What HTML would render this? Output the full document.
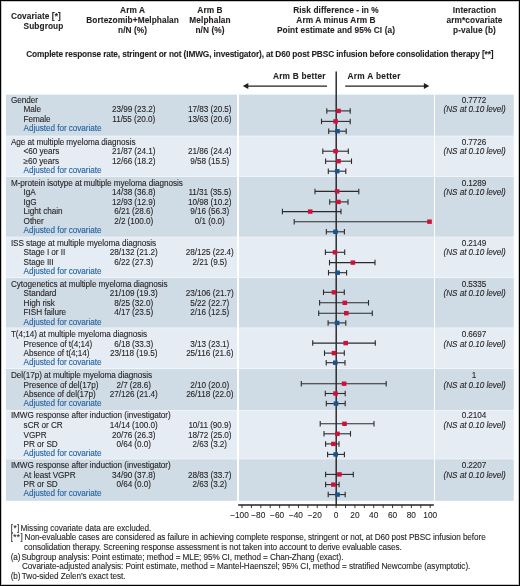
<!DOCTYPE html>
<html><head><meta charset="utf-8"><style>
html,body{margin:0;padding:0;background:#fff;}
body{width:520px;height:586px;position:relative;overflow:hidden;font-family:"Liberation Sans",sans-serif;color:#231f20;}
.t{position:absolute;white-space:nowrap;}
.b{letter-spacing:-0.06px;}
.t{-webkit-text-stroke:0.1px currentColor;}
svg{position:absolute;left:0;top:0;}
.ci{stroke:#2b2b2b;stroke-width:1.1;}
#tx{position:absolute;left:0;top:0;width:520px;height:586px;will-change:transform;}
#bd{position:absolute;left:0;top:0;width:520px;height:586px;box-sizing:border-box;border:1px solid #000;box-shadow:inset 0 0 0 1px rgba(0,0,0,0.22);}
</style></head><body>
<svg width="520" height="586" viewBox="0 0 520 586">
<rect x="5.9" y="94.60" width="231.10" height="41.15" fill="#cfdbe5"/><rect x="239" y="94.60" width="195.00" height="41.15" fill="#cfdbe5"/><rect x="435" y="94.60" width="78.70" height="41.15" fill="#cfdbe5"/><rect x="5.9" y="136.25" width="231.10" height="40.10" fill="#e5ecf3"/><rect x="239" y="136.25" width="195.00" height="40.10" fill="#e5ecf3"/><rect x="435" y="136.25" width="78.70" height="40.10" fill="#e5ecf3"/><rect x="5.9" y="176.85" width="231.10" height="59.90" fill="#cfdbe5"/><rect x="239" y="176.85" width="195.00" height="59.90" fill="#cfdbe5"/><rect x="435" y="176.85" width="78.70" height="59.90" fill="#cfdbe5"/><rect x="5.9" y="237.25" width="231.10" height="40.30" fill="#e5ecf3"/><rect x="239" y="237.25" width="195.00" height="40.30" fill="#e5ecf3"/><rect x="435" y="237.25" width="78.70" height="40.30" fill="#e5ecf3"/><rect x="5.9" y="278.05" width="231.10" height="49.60" fill="#cfdbe5"/><rect x="239" y="278.05" width="195.00" height="49.60" fill="#cfdbe5"/><rect x="435" y="278.05" width="78.70" height="49.60" fill="#cfdbe5"/><rect x="5.9" y="328.15" width="231.10" height="40.30" fill="#e5ecf3"/><rect x="239" y="328.15" width="195.00" height="40.30" fill="#e5ecf3"/><rect x="435" y="328.15" width="78.70" height="40.30" fill="#e5ecf3"/><rect x="5.9" y="368.95" width="231.10" height="41.30" fill="#cfdbe5"/><rect x="239" y="368.95" width="195.00" height="41.30" fill="#cfdbe5"/><rect x="435" y="368.95" width="78.70" height="41.30" fill="#cfdbe5"/><rect x="5.9" y="410.75" width="231.10" height="48.00" fill="#e5ecf3"/><rect x="239" y="410.75" width="195.00" height="48.00" fill="#e5ecf3"/><rect x="435" y="410.75" width="78.70" height="48.00" fill="#e5ecf3"/><rect x="5.9" y="459.25" width="231.10" height="41.55" fill="#cfdbe5"/><rect x="239" y="459.25" width="195.00" height="41.55" fill="#cfdbe5"/><rect x="435" y="459.25" width="78.70" height="41.55" fill="#cfdbe5"/>
<line x1="336.2" y1="71.5" x2="336.2" y2="505" stroke="#231f20" stroke-width="1.4"/><line x1="246" y1="86" x2="327" y2="86" stroke="#231f20" stroke-width="1.25"/><path d="M242.8,86 L248.3,82.9 L248.3,89.1 Z" fill="#231f20"/><line x1="345.2" y1="86" x2="425" y2="86" stroke="#231f20" stroke-width="1.25"/><path d="M429.3,86 L423.9,82.9 L423.9,89.1 Z" fill="#231f20"/><line x1="238.2" y1="504.9" x2="433.8" y2="504.9" stroke="#231f20" stroke-width="1.5"/><line x1="242.00" y1="505" x2="242.00" y2="508" stroke="#231f20" stroke-width="0.9"/><line x1="251.41" y1="505" x2="251.41" y2="508" stroke="#231f20" stroke-width="0.9"/><line x1="260.82" y1="505" x2="260.82" y2="508" stroke="#231f20" stroke-width="0.9"/><line x1="270.23" y1="505" x2="270.23" y2="508" stroke="#231f20" stroke-width="0.9"/><line x1="279.64" y1="505" x2="279.64" y2="508" stroke="#231f20" stroke-width="0.9"/><line x1="289.05" y1="505" x2="289.05" y2="508" stroke="#231f20" stroke-width="0.9"/><line x1="298.46" y1="505" x2="298.46" y2="508" stroke="#231f20" stroke-width="0.9"/><line x1="307.87" y1="505" x2="307.87" y2="508" stroke="#231f20" stroke-width="0.9"/><line x1="317.28" y1="505" x2="317.28" y2="508" stroke="#231f20" stroke-width="0.9"/><line x1="326.69" y1="505" x2="326.69" y2="508" stroke="#231f20" stroke-width="0.9"/><line x1="336.10" y1="505" x2="336.10" y2="508" stroke="#231f20" stroke-width="0.9"/><line x1="345.51" y1="505" x2="345.51" y2="508" stroke="#231f20" stroke-width="0.9"/><line x1="354.92" y1="505" x2="354.92" y2="508" stroke="#231f20" stroke-width="0.9"/><line x1="364.33" y1="505" x2="364.33" y2="508" stroke="#231f20" stroke-width="0.9"/><line x1="373.74" y1="505" x2="373.74" y2="508" stroke="#231f20" stroke-width="0.9"/><line x1="383.15" y1="505" x2="383.15" y2="508" stroke="#231f20" stroke-width="0.9"/><line x1="392.56" y1="505" x2="392.56" y2="508" stroke="#231f20" stroke-width="0.9"/><line x1="401.97" y1="505" x2="401.97" y2="508" stroke="#231f20" stroke-width="0.9"/><line x1="411.38" y1="505" x2="411.38" y2="508" stroke="#231f20" stroke-width="0.9"/><line x1="420.79" y1="505" x2="420.79" y2="508" stroke="#231f20" stroke-width="0.9"/><line x1="430.20" y1="505" x2="430.20" y2="508" stroke="#231f20" stroke-width="0.9"/>
<line x1="326.8" y1="110.9" x2="350.2" y2="110.9" class="ci"/><line x1="326.8" y1="108.15" x2="326.8" y2="113.65" class="ci"/><line x1="350.2" y1="108.15" x2="350.2" y2="113.65" class="ci"/><rect x="336.20" y="108.70" width="4.6" height="4.4" fill="#d0103a"/><line x1="321.5" y1="121.4" x2="350.2" y2="121.4" class="ci"/><line x1="321.5" y1="118.65" x2="321.5" y2="124.15" class="ci"/><line x1="350.2" y1="118.65" x2="350.2" y2="124.15" class="ci"/><rect x="333.30" y="119.20" width="4.6" height="4.4" fill="#d0103a"/><line x1="328.7" y1="131.2" x2="346.2" y2="131.2" class="ci"/><line x1="328.7" y1="128.45" x2="328.7" y2="133.95" class="ci"/><line x1="346.2" y1="128.45" x2="346.2" y2="133.95" class="ci"/><rect x="335.20" y="129.00" width="4.6" height="4.4" fill="#14548f"/><line x1="322.8" y1="151.2" x2="348.3" y2="151.2" class="ci"/><line x1="322.8" y1="148.45" x2="322.8" y2="153.95" class="ci"/><line x1="348.3" y1="148.45" x2="348.3" y2="153.95" class="ci"/><rect x="333.30" y="149.00" width="4.6" height="4.4" fill="#d0103a"/><line x1="325.6" y1="161.2" x2="351.5" y2="161.2" class="ci"/><line x1="325.6" y1="158.45" x2="325.6" y2="163.95" class="ci"/><line x1="351.5" y1="158.45" x2="351.5" y2="163.95" class="ci"/><rect x="336.20" y="159.00" width="4.6" height="4.4" fill="#d0103a"/><line x1="328.3" y1="171.2" x2="345.8" y2="171.2" class="ci"/><line x1="328.3" y1="168.45" x2="328.3" y2="173.95" class="ci"/><line x1="345.8" y1="168.45" x2="345.8" y2="173.95" class="ci"/><rect x="334.90" y="169.00" width="4.6" height="4.4" fill="#14548f"/><line x1="315.0" y1="191.4" x2="358.8" y2="191.4" class="ci"/><line x1="315.0" y1="188.65" x2="315.0" y2="194.15" class="ci"/><line x1="358.8" y1="188.65" x2="358.8" y2="194.15" class="ci"/><rect x="334.80" y="189.20" width="4.6" height="4.4" fill="#d0103a"/><line x1="329.7" y1="201.9" x2="348.0" y2="201.9" class="ci"/><line x1="329.7" y1="199.15" x2="329.7" y2="204.65" class="ci"/><line x1="348.0" y1="199.15" x2="348.0" y2="204.65" class="ci"/><rect x="336.10" y="199.70" width="4.6" height="4.4" fill="#d0103a"/><line x1="282.4" y1="211.6" x2="341.0" y2="211.6" class="ci"/><line x1="282.4" y1="208.85" x2="282.4" y2="214.35" class="ci"/><line x1="341.0" y1="208.85" x2="341.0" y2="214.35" class="ci"/><rect x="307.90" y="209.40" width="4.6" height="4.4" fill="#d0103a"/><line x1="294.2" y1="221.7" x2="430.0" y2="221.7" class="ci"/><line x1="294.2" y1="218.95" x2="294.2" y2="224.45" class="ci"/><rect x="427.20" y="219.50" width="4.6" height="4.4" fill="#d0103a"/><line x1="326.3" y1="231.8" x2="344.4" y2="231.8" class="ci"/><line x1="326.3" y1="229.05" x2="326.3" y2="234.55" class="ci"/><line x1="344.4" y1="229.05" x2="344.4" y2="234.55" class="ci"/><rect x="333.20" y="229.60" width="4.6" height="4.4" fill="#14548f"/><line x1="325.4" y1="252.3" x2="344.7" y2="252.3" class="ci"/><line x1="325.4" y1="249.55" x2="325.4" y2="255.05" class="ci"/><line x1="344.7" y1="249.55" x2="344.7" y2="255.05" class="ci"/><rect x="332.70" y="250.10" width="4.6" height="4.4" fill="#d0103a"/><line x1="329.5" y1="262.6" x2="375.0" y2="262.6" class="ci"/><line x1="329.5" y1="259.85" x2="329.5" y2="265.35" class="ci"/><line x1="375.0" y1="259.85" x2="375.0" y2="265.35" class="ci"/><rect x="350.60" y="260.40" width="4.6" height="4.4" fill="#d0103a"/><line x1="328.5" y1="272.7" x2="346.6" y2="272.7" class="ci"/><line x1="328.5" y1="269.95" x2="328.5" y2="275.45" class="ci"/><line x1="346.6" y1="269.95" x2="346.6" y2="275.45" class="ci"/><rect x="335.30" y="270.50" width="4.6" height="4.4" fill="#14548f"/><line x1="323.5" y1="292.3" x2="344.3" y2="292.3" class="ci"/><line x1="323.5" y1="289.55" x2="323.5" y2="295.05" class="ci"/><line x1="344.3" y1="289.55" x2="344.3" y2="295.05" class="ci"/><rect x="331.70" y="290.10" width="4.6" height="4.4" fill="#d0103a"/><line x1="319.6" y1="302.8" x2="368.5" y2="302.8" class="ci"/><line x1="319.6" y1="300.05" x2="319.6" y2="305.55" class="ci"/><line x1="368.5" y1="300.05" x2="368.5" y2="305.55" class="ci"/><rect x="342.50" y="300.60" width="4.6" height="4.4" fill="#d0103a"/><line x1="318.7" y1="313.2" x2="372.3" y2="313.2" class="ci"/><line x1="318.7" y1="310.45" x2="318.7" y2="315.95" class="ci"/><line x1="372.3" y1="310.45" x2="372.3" y2="315.95" class="ci"/><rect x="344.00" y="311.00" width="4.6" height="4.4" fill="#d0103a"/><line x1="328.1" y1="322.9" x2="345.8" y2="322.9" class="ci"/><line x1="328.1" y1="320.15" x2="328.1" y2="325.65" class="ci"/><line x1="345.8" y1="320.15" x2="345.8" y2="325.65" class="ci"/><rect x="334.80" y="320.70" width="4.6" height="4.4" fill="#14548f"/><line x1="312.7" y1="343.1" x2="375.3" y2="343.1" class="ci"/><line x1="312.7" y1="340.35" x2="312.7" y2="345.85" class="ci"/><line x1="375.3" y1="340.35" x2="375.3" y2="345.85" class="ci"/><rect x="343.40" y="340.90" width="4.6" height="4.4" fill="#d0103a"/><line x1="324.5" y1="353.1" x2="344.3" y2="353.1" class="ci"/><line x1="324.5" y1="350.35" x2="324.5" y2="355.85" class="ci"/><line x1="344.3" y1="350.35" x2="344.3" y2="355.85" class="ci"/><rect x="331.70" y="350.90" width="4.6" height="4.4" fill="#d0103a"/><line x1="326.2" y1="362.7" x2="345.0" y2="362.7" class="ci"/><line x1="326.2" y1="359.95" x2="326.2" y2="365.45" class="ci"/><line x1="345.0" y1="359.95" x2="345.0" y2="365.45" class="ci"/><rect x="333.00" y="360.50" width="4.6" height="4.4" fill="#14548f"/><line x1="301.3" y1="383.7" x2="386.2" y2="383.7" class="ci"/><line x1="301.3" y1="380.95" x2="301.3" y2="386.45" class="ci"/><line x1="386.2" y1="380.95" x2="386.2" y2="386.45" class="ci"/><rect x="341.80" y="381.50" width="4.6" height="4.4" fill="#d0103a"/><line x1="325.3" y1="393.5" x2="345.2" y2="393.5" class="ci"/><line x1="325.3" y1="390.75" x2="325.3" y2="396.25" class="ci"/><line x1="345.2" y1="390.75" x2="345.2" y2="396.25" class="ci"/><rect x="333.20" y="391.30" width="4.6" height="4.4" fill="#d0103a"/><line x1="326.3" y1="403.6" x2="345.2" y2="403.6" class="ci"/><line x1="326.3" y1="400.85" x2="326.3" y2="406.35" class="ci"/><line x1="345.2" y1="400.85" x2="345.2" y2="406.35" class="ci"/><rect x="333.70" y="401.40" width="4.6" height="4.4" fill="#14548f"/><line x1="320.2" y1="423.8" x2="374.0" y2="423.8" class="ci"/><line x1="320.2" y1="421.05" x2="320.2" y2="426.55" class="ci"/><line x1="374.0" y1="421.05" x2="374.0" y2="426.55" class="ci"/><rect x="342.20" y="421.60" width="4.6" height="4.4" fill="#d0103a"/><line x1="324.0" y1="433.8" x2="350.5" y2="433.8" class="ci"/><line x1="324.0" y1="431.05" x2="324.0" y2="436.55" class="ci"/><line x1="350.5" y1="431.05" x2="350.5" y2="436.55" class="ci"/><rect x="335.10" y="431.60" width="4.6" height="4.4" fill="#d0103a"/><line x1="325.6" y1="443.9" x2="339.0" y2="443.9" class="ci"/><line x1="325.6" y1="441.15" x2="325.6" y2="446.65" class="ci"/><line x1="339.0" y1="441.15" x2="339.0" y2="446.65" class="ci"/><rect x="331.10" y="441.70" width="4.6" height="4.4" fill="#d0103a"/><line x1="327.6" y1="454.4" x2="344.4" y2="454.4" class="ci"/><line x1="327.6" y1="451.65" x2="327.6" y2="457.15" class="ci"/><line x1="344.4" y1="451.65" x2="344.4" y2="457.15" class="ci"/><rect x="333.40" y="452.20" width="4.6" height="4.4" fill="#14548f"/><line x1="325.6" y1="474.4" x2="353.3" y2="474.4" class="ci"/><line x1="325.6" y1="471.65" x2="325.6" y2="477.15" class="ci"/><line x1="353.3" y1="471.65" x2="353.3" y2="477.15" class="ci"/><rect x="337.10" y="472.20" width="4.6" height="4.4" fill="#d0103a"/><line x1="325.6" y1="484.6" x2="339.1" y2="484.6" class="ci"/><line x1="325.6" y1="481.85" x2="325.6" y2="487.35" class="ci"/><line x1="339.1" y1="481.85" x2="339.1" y2="487.35" class="ci"/><rect x="331.10" y="482.40" width="4.6" height="4.4" fill="#d0103a"/><line x1="328.2" y1="494.6" x2="345.2" y2="494.6" class="ci"/><line x1="328.2" y1="491.85" x2="328.2" y2="497.35" class="ci"/><line x1="345.2" y1="491.85" x2="345.2" y2="497.35" class="ci"/><rect x="335.20" y="492.40" width="4.6" height="4.4" fill="#14548f"/>
</svg>
<div id="tx">
<div class="t" style="top:9.62px;font-size:8.3px;line-height:12px;left:10.90px;font-weight:bold;letter-spacing:0.08px;">Covariate [*]</div>
<div class="t" style="top:19.62px;font-size:8.3px;line-height:12px;left:23.60px;font-weight:bold;letter-spacing:0.08px;">Subgroup</div>
<div class="t" style="top:3.92px;font-size:8.3px;line-height:12px;left:-17.40px;width:300px;text-align:center;font-weight:bold;letter-spacing:0.08px;">Arm A</div>
<div class="t" style="top:13.92px;font-size:8.3px;line-height:12px;left:-17.40px;width:300px;text-align:center;font-weight:bold;letter-spacing:0.08px;">Bortezomib+Melphalan</div>
<div class="t" style="top:23.92px;font-size:8.3px;line-height:12px;left:-17.40px;width:300px;text-align:center;font-weight:bold;letter-spacing:0.08px;">n/N (%)</div>
<div class="t" style="top:3.92px;font-size:8.3px;line-height:12px;left:60.00px;width:300px;text-align:center;font-weight:bold;letter-spacing:0.08px;">Arm B</div>
<div class="t" style="top:13.92px;font-size:8.3px;line-height:12px;left:60.00px;width:300px;text-align:center;font-weight:bold;letter-spacing:0.08px;">Melphalan</div>
<div class="t" style="top:23.92px;font-size:8.3px;line-height:12px;left:60.00px;width:300px;text-align:center;font-weight:bold;letter-spacing:0.08px;">n/N (%)</div>
<div class="t" style="top:3.92px;font-size:8.3px;line-height:12px;left:186.00px;width:300px;text-align:center;font-weight:bold;letter-spacing:0.08px;">Risk difference - in %</div>
<div class="t" style="top:13.92px;font-size:8.3px;line-height:12px;left:186.00px;width:300px;text-align:center;font-weight:bold;letter-spacing:0.08px;">Arm A minus Arm B</div>
<div class="t" style="top:23.92px;font-size:8.3px;line-height:12px;left:186.00px;width:300px;text-align:center;font-weight:bold;letter-spacing:0.08px;">Point estimate and 95% CI (a)</div>
<div class="t" style="top:3.92px;font-size:8.3px;line-height:12px;left:324.50px;width:300px;text-align:center;font-weight:bold;letter-spacing:0.08px;">Interaction</div>
<div class="t" style="top:13.92px;font-size:8.3px;line-height:12px;left:324.50px;width:300px;text-align:center;font-weight:bold;letter-spacing:0.08px;">arm*covariate</div>
<div class="t" style="top:23.92px;font-size:8.3px;line-height:12px;left:324.50px;width:300px;text-align:center;font-weight:bold;letter-spacing:0.08px;">p-value (b)</div>
<div class="t" style="top:48.22px;font-size:8.3px;line-height:12px;left:-0.20px;width:520px;text-align:center;font-weight:bold;letter-spacing:-0.13px;">Complete response rate, stringent or not (IMWG, investigator), at D60 post PBSC infusion before consolidation therapy [**]</div>
<div class="t" style="top:70.12px;font-size:8.3px;line-height:12px;left:273.00px;font-weight:bold;letter-spacing:0.2px;">Arm B better</div>
<div class="t" style="top:70.12px;font-size:8.3px;line-height:12px;left:347.50px;font-weight:bold;letter-spacing:0.3px;">Arm A better</div>
<div class="t" style="top:94.66px;font-size:8.2px;line-height:12px;left:10.90px;letter-spacing:-0.06px;">Gender</div>
<div class="t" style="top:104.26px;font-size:8.2px;line-height:12px;left:23.60px;letter-spacing:-0.06px;">Male</div>
<div class="t" style="top:104.26px;font-size:8.2px;line-height:12px;left:83.70px;width:100px;text-align:center;letter-spacing:-0.06px;">23/99 (23.2)</div>
<div class="t" style="top:104.26px;font-size:8.2px;line-height:12px;left:159.80px;width:100px;text-align:center;letter-spacing:-0.06px;">17/83 (20.5)</div>
<div class="t" style="top:113.66px;font-size:8.2px;line-height:12px;left:23.60px;letter-spacing:-0.06px;">Female</div>
<div class="t" style="top:113.66px;font-size:8.2px;line-height:12px;left:83.70px;width:100px;text-align:center;letter-spacing:-0.06px;">11/55 (20.0)</div>
<div class="t" style="top:113.66px;font-size:8.2px;line-height:12px;left:159.80px;width:100px;text-align:center;letter-spacing:-0.06px;">13/63 (20.6)</div>
<div class="t" style="top:123.16px;font-size:8.2px;line-height:12px;left:23.60px;color:#1e5f9f;letter-spacing:-0.06px;">Adjusted for covariate</div>
<div class="t" style="top:94.66px;font-size:8.2px;line-height:12px;left:424.00px;width:100px;text-align:center;letter-spacing:-0.06px;">0.7772</div>
<div class="t" style="top:104.26px;font-size:8.2px;line-height:12px;left:424.60px;width:100px;text-align:center;font-style:italic;letter-spacing:-0.06px;">(NS at 0.10 level)</div>
<div class="t" style="top:136.56px;font-size:8.2px;line-height:12px;left:10.90px;letter-spacing:-0.06px;">Age at multiple myeloma diagnosis</div>
<div class="t" style="top:145.96px;font-size:8.2px;line-height:12px;left:23.60px;letter-spacing:-0.06px;">&lt;60 years</div>
<div class="t" style="top:145.96px;font-size:8.2px;line-height:12px;left:83.70px;width:100px;text-align:center;letter-spacing:-0.06px;">21/87 (24.1)</div>
<div class="t" style="top:145.96px;font-size:8.2px;line-height:12px;left:159.80px;width:100px;text-align:center;letter-spacing:-0.06px;">21/86 (24.4)</div>
<div class="t" style="top:155.66px;font-size:8.2px;line-height:12px;left:23.60px;letter-spacing:-0.06px;">&ge;60 years</div>
<div class="t" style="top:155.66px;font-size:8.2px;line-height:12px;left:83.70px;width:100px;text-align:center;letter-spacing:-0.06px;">12/66 (18.2)</div>
<div class="t" style="top:155.66px;font-size:8.2px;line-height:12px;left:159.80px;width:100px;text-align:center;letter-spacing:-0.06px;">9/58 (15.5)</div>
<div class="t" style="top:164.66px;font-size:8.2px;line-height:12px;left:23.60px;color:#1e5f9f;letter-spacing:-0.06px;">Adjusted for covariate</div>
<div class="t" style="top:136.56px;font-size:8.2px;line-height:12px;left:424.00px;width:100px;text-align:center;letter-spacing:-0.06px;">0.7726</div>
<div class="t" style="top:145.96px;font-size:8.2px;line-height:12px;left:424.60px;width:100px;text-align:center;font-style:italic;letter-spacing:-0.06px;">(NS at 0.10 level)</div>
<div class="t" style="top:177.56px;font-size:8.2px;line-height:12px;left:10.90px;letter-spacing:-0.06px;">M-protein isotype at multiple myeloma diagnosis</div>
<div class="t" style="top:187.06px;font-size:8.2px;line-height:12px;left:23.60px;letter-spacing:-0.06px;">IgA</div>
<div class="t" style="top:187.06px;font-size:8.2px;line-height:12px;left:83.70px;width:100px;text-align:center;letter-spacing:-0.06px;">14/38 (36.8)</div>
<div class="t" style="top:187.06px;font-size:8.2px;line-height:12px;left:159.80px;width:100px;text-align:center;letter-spacing:-0.06px;">11/31 (35.5)</div>
<div class="t" style="top:197.26px;font-size:8.2px;line-height:12px;left:23.60px;letter-spacing:-0.06px;">IgG</div>
<div class="t" style="top:197.26px;font-size:8.2px;line-height:12px;left:83.70px;width:100px;text-align:center;letter-spacing:-0.06px;">12/93 (12.9)</div>
<div class="t" style="top:197.26px;font-size:8.2px;line-height:12px;left:159.80px;width:100px;text-align:center;letter-spacing:-0.06px;">10/98 (10.2)</div>
<div class="t" style="top:205.76px;font-size:8.2px;line-height:12px;left:23.60px;letter-spacing:-0.06px;">Light chain</div>
<div class="t" style="top:205.76px;font-size:8.2px;line-height:12px;left:83.70px;width:100px;text-align:center;letter-spacing:-0.06px;">6/21 (28.6)</div>
<div class="t" style="top:205.76px;font-size:8.2px;line-height:12px;left:159.80px;width:100px;text-align:center;letter-spacing:-0.06px;">9/16 (56.3)</div>
<div class="t" style="top:216.26px;font-size:8.2px;line-height:12px;left:23.60px;letter-spacing:-0.06px;">Other</div>
<div class="t" style="top:216.26px;font-size:8.2px;line-height:12px;left:83.70px;width:100px;text-align:center;letter-spacing:-0.06px;">2/2 (100.0)</div>
<div class="t" style="top:216.26px;font-size:8.2px;line-height:12px;left:159.80px;width:100px;text-align:center;letter-spacing:-0.06px;">0/1 (0.0)</div>
<div class="t" style="top:224.76px;font-size:8.2px;line-height:12px;left:23.60px;color:#1e5f9f;letter-spacing:-0.06px;">Adjusted for covariate</div>
<div class="t" style="top:177.56px;font-size:8.2px;line-height:12px;left:424.00px;width:100px;text-align:center;letter-spacing:-0.06px;">0.1289</div>
<div class="t" style="top:187.06px;font-size:8.2px;line-height:12px;left:424.60px;width:100px;text-align:center;font-style:italic;letter-spacing:-0.06px;">(NS at 0.10 level)</div>
<div class="t" style="top:237.56px;font-size:8.2px;line-height:12px;left:10.90px;letter-spacing:-0.06px;">ISS stage at multiple myeloma diagnosis</div>
<div class="t" style="top:246.76px;font-size:8.2px;line-height:12px;left:23.60px;letter-spacing:-0.06px;">Stage I or II</div>
<div class="t" style="top:246.76px;font-size:8.2px;line-height:12px;left:83.70px;width:100px;text-align:center;letter-spacing:-0.06px;">28/132 (21.2)</div>
<div class="t" style="top:246.76px;font-size:8.2px;line-height:12px;left:159.80px;width:100px;text-align:center;letter-spacing:-0.06px;">28/125 (22.4)</div>
<div class="t" style="top:256.56px;font-size:8.2px;line-height:12px;left:23.60px;letter-spacing:-0.06px;">Stage III</div>
<div class="t" style="top:256.56px;font-size:8.2px;line-height:12px;left:83.70px;width:100px;text-align:center;letter-spacing:-0.06px;">6/22 (27.3)</div>
<div class="t" style="top:256.56px;font-size:8.2px;line-height:12px;left:159.80px;width:100px;text-align:center;letter-spacing:-0.06px;">2/21 (9.5)</div>
<div class="t" style="top:266.46px;font-size:8.2px;line-height:12px;left:23.60px;color:#1e5f9f;letter-spacing:-0.06px;">Adjusted for covariate</div>
<div class="t" style="top:237.56px;font-size:8.2px;line-height:12px;left:424.00px;width:100px;text-align:center;letter-spacing:-0.06px;">0.2149</div>
<div class="t" style="top:246.76px;font-size:8.2px;line-height:12px;left:424.60px;width:100px;text-align:center;font-style:italic;letter-spacing:-0.06px;">(NS at 0.10 level)</div>
<div class="t" style="top:278.86px;font-size:8.2px;line-height:12px;left:10.90px;letter-spacing:-0.06px;">Cytogenetics at multiple myeloma diagnosis</div>
<div class="t" style="top:288.46px;font-size:8.2px;line-height:12px;left:23.60px;letter-spacing:-0.06px;">Standard</div>
<div class="t" style="top:288.46px;font-size:8.2px;line-height:12px;left:83.70px;width:100px;text-align:center;letter-spacing:-0.06px;">21/109 (19.3)</div>
<div class="t" style="top:288.46px;font-size:8.2px;line-height:12px;left:159.80px;width:100px;text-align:center;letter-spacing:-0.06px;">23/106 (21.7)</div>
<div class="t" style="top:297.56px;font-size:8.2px;line-height:12px;left:23.60px;letter-spacing:-0.06px;">High risk</div>
<div class="t" style="top:297.56px;font-size:8.2px;line-height:12px;left:83.70px;width:100px;text-align:center;letter-spacing:-0.06px;">8/25 (32.0)</div>
<div class="t" style="top:297.56px;font-size:8.2px;line-height:12px;left:159.80px;width:100px;text-align:center;letter-spacing:-0.06px;">5/22 (22.7)</div>
<div class="t" style="top:306.96px;font-size:8.2px;line-height:12px;left:23.60px;letter-spacing:-0.06px;">FISH failure</div>
<div class="t" style="top:306.96px;font-size:8.2px;line-height:12px;left:83.70px;width:100px;text-align:center;letter-spacing:-0.06px;">4/17 (23.5)</div>
<div class="t" style="top:306.96px;font-size:8.2px;line-height:12px;left:159.80px;width:100px;text-align:center;letter-spacing:-0.06px;">2/16 (12.5)</div>
<div class="t" style="top:317.36px;font-size:8.2px;line-height:12px;left:23.60px;color:#1e5f9f;letter-spacing:-0.06px;">Adjusted for covariate</div>
<div class="t" style="top:278.86px;font-size:8.2px;line-height:12px;left:424.00px;width:100px;text-align:center;letter-spacing:-0.06px;">0.5335</div>
<div class="t" style="top:288.46px;font-size:8.2px;line-height:12px;left:424.60px;width:100px;text-align:center;font-style:italic;letter-spacing:-0.06px;">(NS at 0.10 level)</div>
<div class="t" style="top:328.86px;font-size:8.2px;line-height:12px;left:10.90px;letter-spacing:-0.06px;">T(4;14) at multiple myeloma diagnosis</div>
<div class="t" style="top:339.16px;font-size:8.2px;line-height:12px;left:23.60px;letter-spacing:-0.06px;">Presence of t(4;14)</div>
<div class="t" style="top:339.16px;font-size:8.2px;line-height:12px;left:83.70px;width:100px;text-align:center;letter-spacing:-0.06px;">6/18 (33.3)</div>
<div class="t" style="top:339.16px;font-size:8.2px;line-height:12px;left:159.80px;width:100px;text-align:center;letter-spacing:-0.06px;">3/13 (23.1)</div>
<div class="t" style="top:348.36px;font-size:8.2px;line-height:12px;left:23.60px;letter-spacing:-0.06px;">Absence of t(4;14)</div>
<div class="t" style="top:348.36px;font-size:8.2px;line-height:12px;left:83.70px;width:100px;text-align:center;letter-spacing:-0.06px;">23/118 (19.5)</div>
<div class="t" style="top:348.36px;font-size:8.2px;line-height:12px;left:159.80px;width:100px;text-align:center;letter-spacing:-0.06px;">25/116 (21.6)</div>
<div class="t" style="top:356.56px;font-size:8.2px;line-height:12px;left:23.60px;color:#1e5f9f;letter-spacing:-0.06px;">Adjusted for covariate</div>
<div class="t" style="top:328.86px;font-size:8.2px;line-height:12px;left:424.00px;width:100px;text-align:center;letter-spacing:-0.06px;">0.6697</div>
<div class="t" style="top:339.16px;font-size:8.2px;line-height:12px;left:424.60px;width:100px;text-align:center;font-style:italic;letter-spacing:-0.06px;">(NS at 0.10 level)</div>
<div class="t" style="top:370.06px;font-size:8.2px;line-height:12px;left:10.90px;letter-spacing:-0.06px;">Del(17p) at multiple myeloma diagnosis</div>
<div class="t" style="top:379.56px;font-size:8.2px;line-height:12px;left:23.60px;letter-spacing:-0.06px;">Presence of del(17p)</div>
<div class="t" style="top:379.56px;font-size:8.2px;line-height:12px;left:83.70px;width:100px;text-align:center;letter-spacing:-0.06px;">2/7 (28.6)</div>
<div class="t" style="top:379.56px;font-size:8.2px;line-height:12px;left:159.80px;width:100px;text-align:center;letter-spacing:-0.06px;">2/10 (20.0)</div>
<div class="t" style="top:388.86px;font-size:8.2px;line-height:12px;left:23.60px;letter-spacing:-0.06px;">Absence of del(17p)</div>
<div class="t" style="top:388.86px;font-size:8.2px;line-height:12px;left:83.70px;width:100px;text-align:center;letter-spacing:-0.06px;">27/126 (21.4)</div>
<div class="t" style="top:388.86px;font-size:8.2px;line-height:12px;left:159.80px;width:100px;text-align:center;letter-spacing:-0.06px;">26/118 (22.0)</div>
<div class="t" style="top:398.06px;font-size:8.2px;line-height:12px;left:23.60px;color:#1e5f9f;letter-spacing:-0.06px;">Adjusted for covariate</div>
<div class="t" style="top:370.06px;font-size:8.2px;line-height:12px;left:424.00px;width:100px;text-align:center;letter-spacing:-0.06px;">1</div>
<div class="t" style="top:379.56px;font-size:8.2px;line-height:12px;left:424.60px;width:100px;text-align:center;font-style:italic;letter-spacing:-0.06px;">(NS at 0.10 level)</div>
<div class="t" style="top:410.06px;font-size:8.2px;line-height:12px;left:10.90px;letter-spacing:-0.06px;">IMWG response after induction (investigator)</div>
<div class="t" style="top:419.86px;font-size:8.2px;line-height:12px;left:23.60px;letter-spacing:-0.06px;">sCR or CR</div>
<div class="t" style="top:419.86px;font-size:8.2px;line-height:12px;left:83.70px;width:100px;text-align:center;letter-spacing:-0.06px;">14/14 (100.0)</div>
<div class="t" style="top:419.86px;font-size:8.2px;line-height:12px;left:159.80px;width:100px;text-align:center;letter-spacing:-0.06px;">10/11 (90.9)</div>
<div class="t" style="top:430.06px;font-size:8.2px;line-height:12px;left:23.60px;letter-spacing:-0.06px;">VGPR</div>
<div class="t" style="top:430.06px;font-size:8.2px;line-height:12px;left:83.70px;width:100px;text-align:center;letter-spacing:-0.06px;">20/76 (26.3)</div>
<div class="t" style="top:430.06px;font-size:8.2px;line-height:12px;left:159.80px;width:100px;text-align:center;letter-spacing:-0.06px;">18/72 (25.0)</div>
<div class="t" style="top:439.26px;font-size:8.2px;line-height:12px;left:23.60px;letter-spacing:-0.06px;">PR or SD</div>
<div class="t" style="top:439.26px;font-size:8.2px;line-height:12px;left:83.70px;width:100px;text-align:center;letter-spacing:-0.06px;">0/64 (0.0)</div>
<div class="t" style="top:439.26px;font-size:8.2px;line-height:12px;left:159.80px;width:100px;text-align:center;letter-spacing:-0.06px;">2/63 (3.2)</div>
<div class="t" style="top:447.56px;font-size:8.2px;line-height:12px;left:23.60px;color:#1e5f9f;letter-spacing:-0.06px;">Adjusted for covariate</div>
<div class="t" style="top:410.06px;font-size:8.2px;line-height:12px;left:424.00px;width:100px;text-align:center;letter-spacing:-0.06px;">0.2104</div>
<div class="t" style="top:419.86px;font-size:8.2px;line-height:12px;left:424.60px;width:100px;text-align:center;font-style:italic;letter-spacing:-0.06px;">(NS at 0.10 level)</div>
<div class="t" style="top:460.06px;font-size:8.2px;line-height:12px;left:10.90px;letter-spacing:-0.06px;">IMWG response after induction (investigator)</div>
<div class="t" style="top:469.86px;font-size:8.2px;line-height:12px;left:23.60px;letter-spacing:-0.06px;">At least VGPR</div>
<div class="t" style="top:469.86px;font-size:8.2px;line-height:12px;left:83.70px;width:100px;text-align:center;letter-spacing:-0.06px;">34/90 (37.8)</div>
<div class="t" style="top:469.86px;font-size:8.2px;line-height:12px;left:159.80px;width:100px;text-align:center;letter-spacing:-0.06px;">28/83 (33.7)</div>
<div class="t" style="top:478.86px;font-size:8.2px;line-height:12px;left:23.60px;letter-spacing:-0.06px;">PR or SD</div>
<div class="t" style="top:478.86px;font-size:8.2px;line-height:12px;left:83.70px;width:100px;text-align:center;letter-spacing:-0.06px;">0/64 (0.0)</div>
<div class="t" style="top:478.86px;font-size:8.2px;line-height:12px;left:159.80px;width:100px;text-align:center;letter-spacing:-0.06px;">2/63 (3.2)</div>
<div class="t" style="top:488.06px;font-size:8.2px;line-height:12px;left:23.60px;color:#1e5f9f;letter-spacing:-0.06px;">Adjusted for covariate</div>
<div class="t" style="top:460.06px;font-size:8.2px;line-height:12px;left:424.00px;width:100px;text-align:center;letter-spacing:-0.06px;">0.2207</div>
<div class="t" style="top:469.86px;font-size:8.2px;line-height:12px;left:424.60px;width:100px;text-align:center;font-style:italic;letter-spacing:-0.06px;">(NS at 0.10 level)</div>
<div class="t" style="top:509.32px;font-size:8.3px;line-height:12px;left:219.50px;width:40px;text-align:center;">&minus;100</div>
<div class="t" style="top:509.32px;font-size:8.3px;line-height:12px;left:238.32px;width:40px;text-align:center;">&minus;80</div>
<div class="t" style="top:509.32px;font-size:8.3px;line-height:12px;left:257.14px;width:40px;text-align:center;">&minus;60</div>
<div class="t" style="top:509.32px;font-size:8.3px;line-height:12px;left:275.96px;width:40px;text-align:center;">&minus;40</div>
<div class="t" style="top:509.32px;font-size:8.3px;line-height:12px;left:294.78px;width:40px;text-align:center;">&minus;20</div>
<div class="t" style="top:509.32px;font-size:8.3px;line-height:12px;left:316.10px;width:40px;text-align:center;">0</div>
<div class="t" style="top:509.32px;font-size:8.3px;line-height:12px;left:334.92px;width:40px;text-align:center;">20</div>
<div class="t" style="top:509.32px;font-size:8.3px;line-height:12px;left:353.74px;width:40px;text-align:center;">40</div>
<div class="t" style="top:509.32px;font-size:8.3px;line-height:12px;left:372.56px;width:40px;text-align:center;">60</div>
<div class="t" style="top:509.32px;font-size:8.3px;line-height:12px;left:391.38px;width:40px;text-align:center;">80</div>
<div class="t" style="top:509.32px;font-size:8.3px;line-height:12px;left:410.20px;width:40px;text-align:center;">100</div>
<div class="t" style="top:523.46px;font-size:8.2px;line-height:12px;left:10.70px;letter-spacing:0.45px;">[*]</div>
<div class="t" style="top:523.46px;font-size:8.2px;line-height:12px;left:20.60px;letter-spacing:-0.06px;">Missing covariate data are excluded.</div>
<div class="t" style="top:532.46px;font-size:8.2px;line-height:12px;left:10.70px;letter-spacing:0.35px;">[**]</div>
<div class="t" style="top:532.46px;font-size:8.2px;line-height:12px;left:24.60px;letter-spacing:-0.082px;">Non-evaluable cases are considered as failure in achieving complete response, stringent or not, at D60 post PBSC infusion before</div>
<div class="t" style="top:541.66px;font-size:8.2px;line-height:12px;left:24.00px;letter-spacing:-0.095px;">consolidation therapy. Screening response assessment is not taken into account to derive evaluable cases.</div>
<div class="t" style="top:551.56px;font-size:8.2px;line-height:12px;left:10.70px;letter-spacing:-0.1px;">(a)</div>
<div class="t" style="top:551.56px;font-size:8.2px;line-height:12px;left:21.50px;letter-spacing:-0.09px;">Subgroup analysis: Point estimate; method = MLE; 95% CI, method = Chan-Zhang (exact).</div>
<div class="t" style="top:560.76px;font-size:8.2px;line-height:12px;left:22.00px;letter-spacing:-0.06px;">Covariate-adjusted analysis: Point estimate, method = Mantel-Haenszel; 95% CI, method = stratified Newcombe (asymptotic).</div>
<div class="t" style="top:571.46px;font-size:8.2px;line-height:12px;left:10.70px;letter-spacing:-0.1px;">(b)</div>
<div class="t" style="top:571.46px;font-size:8.2px;line-height:12px;left:21.80px;letter-spacing:-0.06px;">Two-sided Zelen&rsquo;s exact test.</div>
</div>
<div id="bd"></div>
</body></html>
